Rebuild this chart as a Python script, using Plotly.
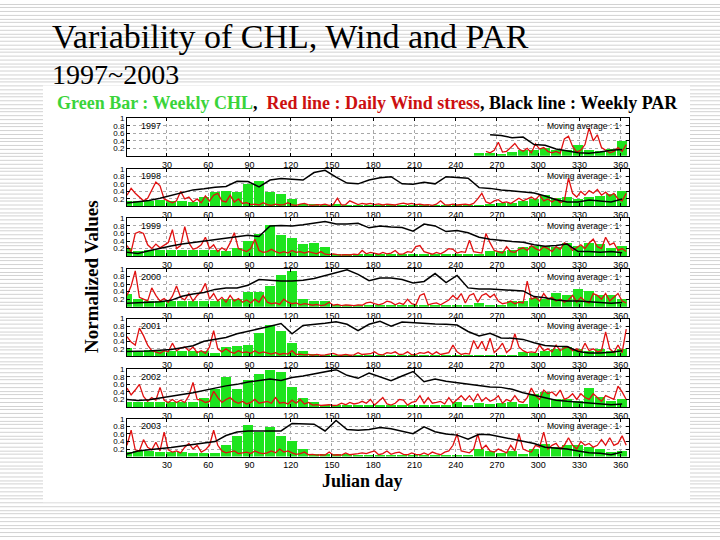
import plotly.graph_objects as go

# ---------------- data ----------------
YEARS = [1997, 1998, 1999, 2000, 2001, 2002, 2003]
CHL_DAYS = list(range(1, 366, 8))      # 8-day composites (weekly CHL / PAR)
WIND_DAYS = list(range(1, 366, 3))     # wind stress samples
X_TICKS = [30, 60, 90, 120, 150, 180, 210, 240, 270, 300, 330, 360]
Y_TICKS = [0.2, 0.4, 0.6, 0.8, 1.0]
Y_TICK_TEXT = ["0.2", "0.4", "0.6", "0.8", "1"]

CHL_1997 = [None] * 32 + [0.07, 0.07, 0.05, 0.1, 0.15, 0.15, 0.2, 0.15, 0.15, 0.28, 0.15, 0.12, 0.18, 0.38]
CHL_1998 = [0.15, 0.15, 0.15, 0.18, 0.15, 0.15, 0.12, 0.25, 0.38, 0.42,
            0.4, 0.6, 0.68, 0.4, 0.35, 0.2, 0.08, 0.06, 0.05, 0.06,
            0.05, 0.04, 0.03, 0.03, 0.04, 0.03, 0.04, 0.03, 0.04, 0.03,
            0.04, 0.03, 0.05, 0.08, 0.1, 0.1, 0.15, 0.2, 0.3, 0.22,
            0.25, 0.2, 0.25, 0.28, 0.35, 0.42]
CHL_1999 = [0.2, 0.12, 0.15, 0.15, 0.15, 0.15, 0.15, 0.15, 0.15, 0.12,
            0.2, 0.38, 0.58, 0.82, 0.55, 0.47, 0.3, 0.35, 0.22, 0.05,
            0.04, 0.04, 0.03, 0.03, 0.03, 0.03, 0.03, 0.03, 0.03, 0.04,
            0.04, 0.04, 0.05, 0.12, 0.12, 0.15, 0.24, 0.27, 0.25, 0.22,
            0.35, 0.25, 0.35, 0.3, 0.2, 0.25]
CHL_2000 = [0.33, 0.2, 0.15, 0.15, 0.15, 0.15, 0.15, 0.15, 0.15, 0.2,
            0.2, 0.38, 0.38, 0.55, 0.83, 0.94, 0.2, 0.15, 0.15, 0.05,
            0.04, 0.04, 0.03, 0.03, 0.03, 0.03, 0.03, 0.03, 0.03, 0.03,
            0.03, 0.05, 0.1, 0.05, 0.05, 0.14, 0.15, 0.23, 0.2, 0.36,
            0.3, 0.46, 0.42, 0.3, 0.3, 0.2]
CHL_2001 = [0.22, 0.15, 0.18, 0.15, 0.15, 0.15, 0.15, 0.15, 0.1, 0.25,
            0.28, 0.3, 0.63, 0.83, 0.67, 0.36, 0.15, 0.08, 0.05, 0.05,
            0.04, 0.04, 0.03, 0.03, 0.03, 0.03, 0.03, 0.03, 0.03, 0.03,
            0.03, 0.03, 0.03, 0.04, 0.04, 0.05, 0.12, 0.1, 0.15, 0.2,
            0.26, 0.2, 0.15, 0.2, 0.15, 0.2]
CHL_2002 = [0.12, 0.12, 0.12, 0.12, 0.12, 0.12, 0.12, 0.22, 0.48, 0.8,
            0.48, 0.72, 0.88, 0.98, 0.92, 0.52, 0.22, 0.12, 0.05, 0.04,
            0.04, 0.04, 0.03, 0.03, 0.03, 0.03, 0.03, 0.03, 0.04, 0.05,
            0.13, 0.05, 0.1, 0.08, 0.1, 0.12, 0.08, 0.33, 0.4, 0.2,
            0.2, 0.15, 0.5, 0.25, 0.15, 0.2]
CHL_2003 = [0.12, 0.15, 0.15, 0.12, 0.12, 0.12, 0.1, 0.1, 0.1, 0.3,
            0.55, 0.83, 0.65, 0.8, 0.56, 0.42, 0.2, 0.08, 0.06, 0.06,
            0.08, 0.05, 0.04, 0.04, 0.04, 0.04, 0.04, 0.05, 0.05, 0.05,
            0.05, 0.05, 0.2, 0.15, 0.1, 0.15, 0.08, 0.2, 0.33, 0.25,
            0.3, 0.3, 0.25, 0.2, 0.12, 0.15]

PAR_1997 = [None] * 33 + [0.56, 0.54, 0.48, 0.5, 0.3, 0.28, 0.18, 0.12, 0.08, 0.07, 0.1, 0.15, 0.17]
PAR_1998 = [0.09, 0.12, 0.16, 0.22, 0.3, 0.38, 0.44, 0.47, 0.51, 0.53,
            0.67, 0.66, 0.52, 0.7, 0.74, 0.72, 0.7, 0.9, 0.96, 0.78,
            0.62, 0.6, 0.7, 0.76, 0.79, 0.6, 0.59, 0.64, 0.6, 0.79,
            0.77, 0.75, 0.5, 0.48, 0.44, 0.41, 0.38, 0.36, 0.28, 0.18,
            0.12, 0.12, 0.17, 0.14, 0.12, 0.2]
PAR_1999 = [0.1, 0.07, 0.14, 0.21, 0.27, 0.32, 0.36, 0.4, 0.43, 0.47,
            0.53, 0.55, 0.52, 0.8, 0.81, 0.8, 0.83, 0.87, 0.92, 0.85,
            0.85, 0.87, 0.75, 0.8, 0.77, 0.76, 0.66, 0.85, 0.8, 0.65,
            0.68, 0.62, 0.5, 0.45, 0.41, 0.39, 0.37, 0.3, 0.26, 0.28,
            0.32, 0.12, 0.12, 0.1, 0.12, 0.09]
PAR_2000 = [0.09, 0.11, 0.12, 0.13, 0.17, 0.28, 0.34, 0.38, 0.46, 0.5,
            0.5, 0.57, 0.72, 0.7, 0.68, 0.68, 0.7, 0.75, 0.83, 0.9,
            0.98, 0.86, 0.69, 0.76, 0.76, 0.72, 0.63, 0.67, 0.88, 0.64,
            0.83, 0.5, 0.47, 0.47, 0.46, 0.44, 0.42, 0.27, 0.24, 0.18,
            0.15, 0.15, 0.13, 0.11, 0.09, 0.11]
PAR_2001 = [0.13, 0.13, 0.14, 0.16, 0.18, 0.23, 0.28, 0.4, 0.46, 0.5,
            0.6, 0.66, 0.72, 0.8, 0.87, 0.6, 0.82, 0.84, 0.88, 0.92,
            0.85, 0.68, 0.85, 0.93, 0.8, 0.91, 0.89, 0.88, 0.86, 0.85,
            0.83, 0.66, 0.54, 0.61, 0.49, 0.48, 0.45, 0.36, 0.29, 0.27,
            0.26, 0.13, 0.09, 0.09, 0.11, 0.15]
PAR_2002 = [0.2, 0.17, 0.19, 0.23, 0.27, 0.33, 0.38, 0.43, 0.5, 0.56,
            0.6, 0.66, 0.7, 0.74, 0.7, 0.78, 0.82, 0.87, 0.94, 0.99,
            0.84, 0.76, 0.9, 0.79, 0.7, 0.82, 0.94, 0.67, 0.74, 0.68,
            0.64, 0.61, 0.57, 0.53, 0.52, 0.47, 0.38, 0.31, 0.24, 0.18,
            0.15, 0.13, 0.1, 0.07, 0.06, 0.08]
PAR_2003 = [0.07, 0.15, 0.18, 0.2, 0.24, 0.28, 0.32, 0.36, 0.4, 0.56,
            0.65, 0.68, 0.68, 0.67, 0.68, 0.88, 0.87, 0.86, 0.68, 0.96,
            0.72, 0.7, 0.72, 0.77, 0.74, 0.68, 0.61, 0.79, 0.66, 0.6,
            0.57, 0.46, 0.59, 0.58, 0.52, 0.47, 0.41, 0.35, 0.25, 0.23,
            0.2, 0.15, 0.1, 0.09, 0.05, 0.12]

WIND_1997 = [None] * 87 + [
    0.12, 0.08, 0.15, 0.36, 0.1, 0.12, 0.22, 0.33, 0.18, 0.12,
    0.2, 0.08, 0.32, 0.18, 0.22, 0.12, 0.08, 0.12, 0.07, 0.45,
    0.52, 0.25, 0.1, 0.15, 0.3, 0.74, 0.4, 0.56, 0.22, 0.15,
    0.08, 0.12, 0.22, 0.12, 0.3]
WIND_1998 = [0.3, 0.48, 0.35, 0.25, 0.15, 0.22, 0.45, 0.65, 0.55, 0.2,
             0.15, 0.1, 0.15, 0.4, 0.2, 0.25, 0.12, 0.2, 0.1, 0.28,
             0.15, 0.3, 0.35, 0.15, 0.12, 0.3, 0.12, 0.2, 0.08, 0.1,
             0.05, 0.06, 0.04, 0.1, 0.05, 0.03, 0.06, 0.04, 0.05, 0.1,
             0.04, 0.03, 0.06, 0.08, 0.04, 0.03, 0.05, 0.04, 0.06, 0.03,
             0.05, 0.22, 0.04, 0.05, 0.15, 0.1, 0.05, 0.08, 0.06, 0.08,
             0.05, 0.07, 0.04, 0.06, 0.05, 0.04, 0.07, 0.09, 0.06, 0.08,
             0.05, 0.06, 0.04, 0.05, 0.03, 0.06, 0.15, 0.05, 0.04, 0.06,
             0.04, 0.05, 0.06, 0.04, 0.08, 0.2, 0.35, 0.12, 0.08, 0.15,
             0.18, 0.1, 0.12, 0.08, 0.15, 0.22, 0.15, 0.2, 0.25, 0.18,
             0.3, 0.15, 0.2, 0.12, 0.2, 0.1, 0.15, 0.75, 0.35, 0.25,
             0.4, 0.3, 0.42, 0.35, 0.45, 0.3, 0.38, 0.28, 0.35, 0.2,
             0.15, 0.35]
WIND_1999 = [0.28, 0.12, 0.6, 0.65, 0.6, 0.3, 0.2, 0.32, 0.22, 0.3,
             0.36, 0.7, 0.2, 0.28, 0.78, 0.35, 0.18, 0.22, 0.3, 0.5,
             0.2, 0.3, 0.12, 0.22, 0.15, 0.35, 0.62, 0.2, 0.15, 0.12,
             0.2, 0.45, 0.15, 0.1, 0.12, 0.18, 0.12, 0.08, 0.12, 0.08,
             0.15, 0.1, 0.12, 0.08, 0.12, 0.1, 0.06, 0.12, 0.05, 0.04,
             0.06, 0.04, 0.03, 0.04, 0.03, 0.05, 0.04, 0.15, 0.06, 0.1,
             0.08, 0.05, 0.1, 0.06, 0.08, 0.15, 0.05, 0.06, 0.12, 0.1,
             0.25, 0.28, 0.12, 0.08, 0.05, 0.1, 0.06, 0.12, 0.2, 0.18,
             0.08, 0.12, 0.1, 0.42, 0.12, 0.1, 0.08, 0.6, 0.35, 0.15,
             0.12, 0.08, 0.25, 0.12, 0.1, 0.18, 0.22, 0.15, 0.28, 0.2,
             0.15, 0.25, 0.2, 0.12, 0.25, 0.18, 0.35, 0.3, 0.15, 0.22,
             0.3, 0.2, 0.35, 0.45, 0.25, 0.2, 0.5, 0.3, 0.35, 0.15,
             0.2, 0.12]
WIND_2000 = [0.3, 0.55, 0.95, 0.25, 0.2, 0.15, 0.5, 0.3, 0.15, 0.22,
             0.12, 0.28, 0.55, 0.25, 0.18, 0.35, 0.15, 0.3, 0.4, 0.62,
             0.2, 0.35, 0.15, 0.25, 0.12, 0.3, 0.15, 0.22, 0.12, 0.18,
             0.1, 0.2, 0.12, 0.3, 0.12, 0.08, 0.1, 0.06, 0.2, 0.12,
             0.08, 0.1, 0.05, 0.08, 0.06, 0.04, 0.06, 0.03, 0.05, 0.12,
             0.04, 0.06, 0.03, 0.05, 0.04, 0.03, 0.05, 0.04, 0.1, 0.12,
             0.08, 0.05, 0.08, 0.15, 0.12, 0.05, 0.1, 0.06, 0.2, 0.08,
             0.05, 0.3, 0.35, 0.05, 0.08, 0.1, 0.05, 0.12, 0.18, 0.3,
             0.2, 0.35, 0.1, 0.3, 0.35, 0.12, 0.3, 0.35, 0.25, 0.33,
             0.15, 0.08, 0.1, 0.15, 0.08, 0.12, 0.1, 0.68, 0.2, 0.25,
             0.15, 0.35, 0.2, 0.25, 0.15, 0.2, 0.12, 0.18, 0.3, 0.12,
             0.25, 0.15, 0.1, 0.35, 0.3, 0.2, 0.35, 0.15, 0.25, 0.35,
             0.15, 0.1]
WIND_2001 = [0.52, 0.38, 0.3, 0.75, 0.55, 0.3, 0.15, 0.12, 0.08, 0.15,
             0.12, 0.35, 0.15, 0.22, 0.25, 0.15, 0.25, 0.1, 0.15, 0.08,
             0.25, 0.68, 0.2, 0.12, 0.2, 0.12, 0.08, 0.15, 0.1, 0.12,
             0.08, 0.15, 0.08, 0.12, 0.1, 0.06, 0.1, 0.05, 0.08, 0.06,
             0.15, 0.05, 0.06, 0.04, 0.05, 0.03, 0.05, 0.03, 0.04, 0.06,
             0.08, 0.04, 0.03, 0.05, 0.03, 0.04, 0.1, 0.05, 0.05, 0.07,
             0.12, 0.05, 0.04, 0.1, 0.08, 0.12, 0.05, 0.06, 0.12, 0.04,
             0.05, 0.1, 0.08, 0.12, 0.05, 0.12, 0.05, 0.08, 0.1, 0.3,
             0.12, 0.05, 0.08, 0.06, 0.42, 0.2, 0.4, 0.15, 0.48, 0.1,
             0.2, 0.35, 0.1, 0.2, 0.6, 0.25, 0.15, 0.1, 0.12, 0.1,
             0.3, 0.15, 0.2, 0.12, 0.3, 0.15, 0.22, 0.25, 0.15, 0.2,
             0.12, 0.35, 0.15, 0.2, 0.12, 0.15, 0.65, 0.2, 0.1, 0.3,
             0.1, 0.72]
WIND_2002 = [0.5, 0.32, 0.45, 0.6, 0.28, 0.15, 0.25, 0.18, 0.52, 0.18,
             0.12, 0.2, 0.12, 0.18, 0.12, 0.3, 0.65, 0.2, 0.18, 0.12,
             0.15, 0.42, 0.25, 0.12, 0.2, 0.25, 0.15, 0.1, 0.15, 0.08,
             0.12, 0.2, 0.1, 0.12, 0.15, 0.1, 0.25, 0.1, 0.12, 0.08,
             0.18, 0.1, 0.2, 0.08, 0.12, 0.05, 0.06, 0.04, 0.05, 0.06,
             0.04, 0.05, 0.1, 0.06, 0.12, 0.08, 0.1, 0.15, 0.1, 0.2,
             0.05, 0.15, 0.25, 0.08, 0.05, 0.1, 0.2, 0.18, 0.05, 0.12,
             0.15, 0.3, 0.1, 0.25, 0.1, 0.12, 0.15, 0.08, 0.25, 0.1,
             0.2, 0.3, 0.18, 0.3, 0.15, 0.35, 0.15, 0.25, 0.15, 0.2,
             0.3, 0.1, 0.2, 0.15, 0.3, 0.15, 0.12, 0.25, 0.5, 0.3,
             0.2, 0.45, 0.35, 0.4, 0.3, 0.45, 0.2, 0.25, 0.35, 0.2,
             0.35, 0.25, 0.2, 0.35, 0.25, 0.15, 0.3, 0.25, 0.2, 0.55,
             0.4, 0.2]
WIND_2003 = [0.3, 0.7, 0.18, 0.15, 0.45, 0.25, 0.18, 0.38, 0.15, 0.65,
             0.18, 0.12, 0.15, 0.1, 0.25, 0.35, 0.2, 0.3, 0.12, 0.18,
             0.3, 0.7, 0.3, 0.15, 0.1, 0.12, 0.15, 0.08, 0.1, 0.12,
             0.08, 0.15, 0.1, 0.08, 0.1, 0.15, 0.1, 0.2, 0.12, 0.15,
             0.1, 0.06, 0.08, 0.12, 0.05, 0.06, 0.04, 0.05, 0.04, 0.12,
             0.04, 0.05, 0.04, 0.1, 0.05, 0.06, 0.08, 0.1, 0.08, 0.12,
             0.15, 0.05, 0.08, 0.15, 0.06, 0.1, 0.12, 0.06, 0.05, 0.1,
             0.06, 0.05, 0.1, 0.05, 0.12, 0.08, 0.05, 0.12, 0.15, 0.3,
             0.6, 0.15, 0.12, 0.1, 0.2, 0.6, 0.2, 0.3, 0.15, 0.12,
             0.2, 0.15, 0.1, 0.3, 0.15, 0.6, 0.2, 0.15, 0.12, 0.3,
             0.25, 0.65, 0.2, 0.3, 0.35, 0.2, 0.3, 0.5, 0.3, 0.2,
             0.4, 0.3, 0.35, 0.25, 0.3, 0.45, 0.3, 0.5, 0.3, 0.35,
             0.55, 0.3]

CHL = [CHL_1997, CHL_1998, CHL_1999, CHL_2000, CHL_2001, CHL_2002, CHL_2003]
PAR = [PAR_1997, PAR_1998, PAR_1999, PAR_2000, PAR_2001, PAR_2002, PAR_2003]
WIND = [WIND_1997, WIND_1998, WIND_1999, WIND_2000, WIND_2001, WIND_2002, WIND_2003]

# ---------------- layout helpers ----------------
W, H = 720, 540


def px(x):
    return x / W


def py(y):
    return 1 - y / H


PANEL_TOPS = [115, 166, 216, 267, 317, 368, 418]
PANEL_H = 38
AX_LEFT, AX_RIGHT = 127, 629

GREEN = "#1ee41e"
RED = "#e01010"
SERIF = "Liberation Serif, Times New Roman, serif"
SANS = "Liberation Sans, Arial, sans-serif"

fig = go.Figure()
layout = {}

for n, year in enumerate(YEARS, start=1):
    xa, ya = f"x{n}", f"y{n}"
    fig.add_trace(go.Bar(x=CHL_DAYS, y=CHL[n - 1], width=7, marker=dict(color=GREEN, line=dict(width=0)),
                         xaxis=xa, yaxis=ya, showlegend=False, hoverinfo="skip"))
    fig.add_trace(go.Scatter(x=WIND_DAYS, y=WIND[n - 1], mode="lines", line=dict(color=RED, width=1.3),
                             xaxis=xa, yaxis=ya, showlegend=False, hoverinfo="skip"))
    fig.add_trace(go.Scatter(x=CHL_DAYS, y=PAR[n - 1], mode="lines", line=dict(color="black", width=1.5),
                             xaxis=xa, yaxis=ya, showlegend=False, hoverinfo="skip"))
    top = PANEL_TOPS[n - 1]
    common = dict(showline=True, linecolor="black", linewidth=1, mirror="ticks", ticks="inside",
                  ticklen=3, tickcolor="black", showgrid=True, gridcolor="#a8a8a8", griddash="dot",
                  gridwidth=1, zeroline=False, fixedrange=True)
    layout[f"xaxis{n}"] = dict(common, domain=[px(AX_LEFT), px(AX_RIGHT)], range=[1, 366], anchor=ya,
                               tickvals=X_TICKS, tickfont=dict(family=SANS, size=9, color="black"))
    layout[f"yaxis{n}"] = dict(common, domain=[py(top + PANEL_H), py(top)], range=[0, 1], anchor=xa,
                               tickvals=Y_TICKS, ticktext=Y_TICK_TEXT,
                               tickfont=dict(family=SANS, size=8, color="black"))

fig.update_layout(**layout)

annotations = []
for n, year in enumerate(YEARS, start=1):
    annotations.append(dict(x=10, y=0.8, xref=f"x{n}", yref=f"y{n}", text=str(year), showarrow=False,
                            xanchor="left", yanchor="middle", font=dict(family=SANS, size=9, color="black")))
    annotations.append(dict(x=361, y=0.8, xref=f"x{n}", yref=f"y{n}", text="Moving average : 1",
                            showarrow=False, xanchor="right", yanchor="middle",
                            font=dict(family=SANS, size=8.5, color="black")))

annotations += [
    dict(x=px(50), y=py(33), xref="paper", yref="paper", text="Variability of CHL, Wind and PAR",
         showarrow=False, xanchor="left", yanchor="middle", font=dict(family=SERIF, size=34, color="black")),
    dict(x=px(50), y=py(71), xref="paper", yref="paper", text="1997~2003",
         showarrow=False, xanchor="left", yanchor="middle", font=dict(family=SERIF, size=28, color="black")),
    dict(x=px(55), y=py(100), xref="paper", yref="paper",
         text="<b><span style='color:#3ad43a'>Green Bar : Weekly CHL</span>,  "
              "<span style='color:#cc1010'>Red line : Daily Wind stress</span>, Black line : Weekly PAR</b>",
         showarrow=False, xanchor="left", yanchor="middle", font=dict(family=SERIF, size=18, color="black")),
    dict(x=px(92), y=py(275), xref="paper", yref="paper", text="<b>Normalized Values</b>", textangle=-90,
         showarrow=False, xanchor="center", yanchor="middle", font=dict(family=SERIF, size=19, color="black")),
    dict(x=px(362), y=py(481), xref="paper", yref="paper", text="<b>Julian day</b>",
         showarrow=False, xanchor="center", yanchor="middle", font=dict(family=SERIF, size=18, color="black")),
]

# slide background: light ruled stripes with a white picture area
stripe_path = " ".join(f"M0,{py(int(k * 3.75) + 0.5)} L1,{py(int(k * 3.75) + 0.5)}" for k in range(145))
shapes = [
    dict(type="path", path=stripe_path, xref="paper", yref="paper", line=dict(color="#d2d2d2", width=1),
         layer="below"),
    dict(type="rect", x0=px(43), x1=px(690), y0=py(502), y1=py(82), xref="paper", yref="paper",
         fillcolor="white", line=dict(width=0), layer="below"),
]

fig.update_layout(width=W, height=H, margin=dict(l=0, r=0, t=0, b=0), paper_bgcolor="white",
                  plot_bgcolor="rgba(0,0,0,0)", annotations=annotations, shapes=shapes, bargap=0,
                  showlegend=False)

fig.write_html("out.html")
